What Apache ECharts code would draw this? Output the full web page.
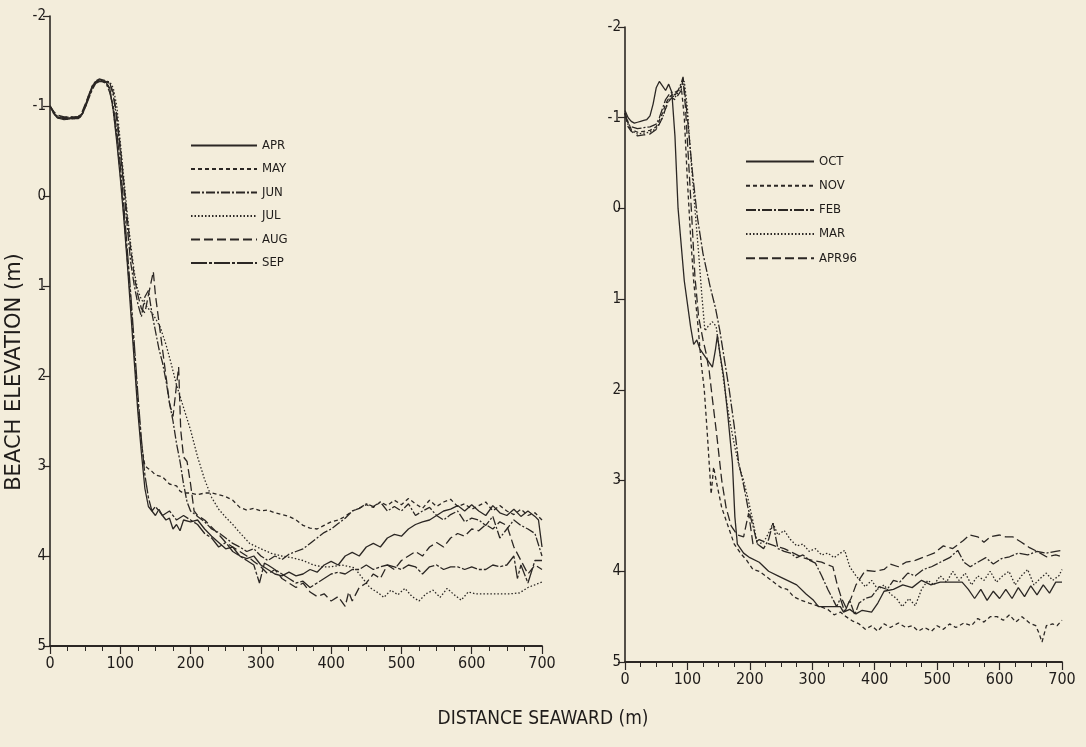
<!DOCTYPE html>
<html>
<head>
<meta charset="utf-8">
<script src="https://cdn.jsdelivr.net/npm/echarts@6/dist/echarts.min.js"></script>
<style>
html, body { margin: 0; padding: 0; background: #f3eddb; }
#chart { width: 1086px; height: 747px; }
</style>
</head>
<body>
<div id="chart"></div>
<script>
// beach profiles, left panel (x = distance seaward m, y = elevation m)
const leftNames = ['APR', 'MAY', 'JUN', 'JUL', 'AUG', 'SEP'];
const rightNames = ['OCT', 'NOV', 'FEB', 'MAR', 'APR96'];

const apr = [[0,-1.0],[5,-0.93],[10,-0.88],[20,-0.86],[30,-0.87],[40,-0.87],[45,-0.9],[50,-1.0],[55,-1.1],[60,-1.2],[65,-1.26],[70,-1.28],[75,-1.27],[80,-1.26],[85,-1.2],[90,-0.95],[95,-0.6],[100,-0.2],[105,0.25],[110,0.75],[115,1.3],[120,1.85],[125,2.4],[130,2.85],[135,3.25],[140,3.45],[145,3.5],[150,3.55],[155,3.48],[160,3.55],[165,3.6],[170,3.58],[175,3.7],[180,3.65],[185,3.72],[190,3.6],[200,3.62],[210,3.6],[220,3.7],[230,3.78],[240,3.85],[250,3.92],[260,3.9],[270,4.0],[280,4.03],[290,4.0],[300,4.1],[310,4.15],[320,4.2],[330,4.22],[340,4.18],[350,4.22],[360,4.2],[370,4.15],[380,4.18],[390,4.1],[400,4.06],[410,4.1],[420,4.0],[430,3.96],[440,4.0],[450,3.9],[460,3.86],[470,3.9],[480,3.8],[490,3.76],[500,3.78],[510,3.7],[520,3.65],[530,3.62],[540,3.6],[550,3.55],[560,3.5],[570,3.48],[580,3.44],[590,3.5],[600,3.43],[610,3.5],[620,3.55],[630,3.44],[640,3.52],[650,3.55],[660,3.48],[670,3.56],[680,3.5],[690,3.56],[695,3.6],[700,3.9]];
const may = [[0,-1.0],[5,-0.92],[10,-0.87],[20,-0.85],[30,-0.86],[40,-0.86],[45,-0.89],[50,-0.98],[55,-1.1],[60,-1.2],[65,-1.27],[70,-1.29],[75,-1.28],[80,-1.27],[85,-1.18],[90,-0.95],[95,-0.65],[100,-0.25],[105,0.2],[110,0.7],[115,1.2],[120,1.75],[125,2.3],[130,2.75],[135,3.0],[140,3.03],[145,3.06],[150,3.1],[160,3.12],[170,3.2],[180,3.22],[185,3.28],[190,3.3],[200,3.3],[210,3.32],[220,3.3],[230,3.3],[240,3.32],[250,3.34],[260,3.38],[270,3.46],[280,3.49],[290,3.47],[300,3.5],[310,3.49],[320,3.52],[330,3.54],[340,3.56],[350,3.6],[360,3.66],[370,3.69],[380,3.7],[390,3.66],[400,3.62],[410,3.6],[420,3.56],[430,3.5],[440,3.47],[450,3.43],[460,3.46],[470,3.4],[480,3.44],[490,3.38],[500,3.43],[510,3.36],[520,3.42],[530,3.47],[540,3.38],[550,3.45],[560,3.4],[570,3.37],[580,3.45],[590,3.42],[600,3.48],[610,3.44],[620,3.4],[630,3.5],[640,3.44],[650,3.5],[660,3.54],[670,3.48],[680,3.55],[690,3.52],[700,3.6]];
const jun = [[0,-1.0],[5,-0.94],[10,-0.89],[20,-0.87],[30,-0.88],[40,-0.88],[45,-0.91],[50,-1.0],[55,-1.12],[60,-1.22],[65,-1.28],[70,-1.3],[75,-1.29],[80,-1.28],[85,-1.26],[90,-1.12],[95,-0.85],[100,-0.5],[105,-0.1],[110,0.35],[115,0.75],[120,1.0],[125,1.2],[130,1.34],[135,1.12],[140,1.05],[145,1.3],[150,1.5],[155,1.7],[160,1.85],[165,2.05],[170,2.3],[175,2.5],[180,2.75],[185,2.95],[190,3.2],[195,3.4],[200,3.5],[210,3.56],[220,3.62],[230,3.7],[240,3.74],[250,3.8],[260,3.86],[270,3.9],[280,3.95],[290,3.92],[300,4.0],[310,4.05],[320,4.0],[330,4.04],[340,3.98],[350,3.95],[360,3.92],[370,3.86],[380,3.8],[390,3.74],[400,3.7],[410,3.64],[420,3.58],[430,3.5],[440,3.47],[450,3.42],[460,3.45],[470,3.4],[480,3.5],[490,3.45],[500,3.5],[510,3.42],[520,3.55],[530,3.5],[540,3.46],[550,3.55],[560,3.6],[570,3.54],[580,3.5],[590,3.62],[600,3.58],[610,3.6],[620,3.66],[630,3.56],[640,3.8],[650,3.7],[660,3.6],[670,3.66],[680,3.7],[690,3.75],[700,4.0]];
const jul = [[0,-1.0],[5,-0.93],[10,-0.88],[20,-0.86],[30,-0.86],[40,-0.87],[45,-0.9],[50,-0.99],[55,-1.1],[60,-1.21],[65,-1.27],[70,-1.29],[75,-1.28],[80,-1.27],[85,-1.27],[90,-1.2],[95,-1.0],[100,-0.6],[105,-0.2],[110,0.2],[115,0.55],[120,0.85],[125,1.05],[130,1.15],[135,1.2],[140,1.25],[145,1.3],[150,1.36],[157,1.46],[165,1.65],[172,1.85],[180,2.1],[190,2.35],[200,2.6],[210,2.9],[220,3.15],[230,3.35],[240,3.48],[250,3.57],[260,3.65],[270,3.74],[284,3.86],[300,3.92],[315,3.97],[330,4.0],[345,4.02],[360,4.05],[375,4.1],[387,4.12],[400,4.12],[415,4.1],[433,4.13],[445,4.25],[455,4.35],[467,4.41],[475,4.46],[485,4.38],[495,4.43],[505,4.36],[515,4.45],[525,4.5],[535,4.42],[545,4.38],[555,4.46],[565,4.36],[575,4.43],[585,4.49],[595,4.4],[605,4.42],[620,4.42],[640,4.42],[655,4.42],[668,4.41],[680,4.35],[690,4.32],[700,4.29]];
const aug = [[0,-1.0],[5,-0.94],[10,-0.9],[20,-0.88],[30,-0.88],[40,-0.88],[45,-0.92],[50,-1.02],[55,-1.12],[60,-1.22],[65,-1.27],[70,-1.29],[75,-1.28],[80,-1.27],[85,-1.25],[90,-1.15],[95,-0.9],[100,-0.55],[105,-0.15],[110,0.25],[115,0.6],[120,0.9],[125,1.1],[130,1.25],[135,1.3],[140,1.1],[147,0.84],[150,1.1],[155,1.4],[160,1.7],[165,2.0],[170,2.3],[175,2.45],[180,2.1],[183,1.9],[186,2.6],[190,2.9],[195,2.95],[200,3.2],[205,3.5],[210,3.55],[220,3.6],[230,3.68],[240,3.76],[250,3.85],[260,3.9],[270,3.95],[280,4.0],[290,4.06],[300,4.12],[310,4.2],[320,4.15],[330,4.25],[340,4.3],[350,4.35],[360,4.3],[370,4.4],[380,4.45],[390,4.42],[400,4.5],[410,4.45],[420,4.56],[425,4.4],[430,4.5],[440,4.35],[450,4.3],[460,4.2],[470,4.25],[480,4.1],[490,4.15],[500,4.05],[510,4.0],[520,3.95],[530,4.0],[540,3.9],[550,3.85],[560,3.9],[570,3.8],[580,3.75],[590,3.78],[600,3.7],[610,3.72],[620,3.65],[630,3.7],[640,3.62],[650,3.66],[660,3.9],[670,4.05],[680,4.2],[690,4.1],[700,4.15]];
const sep = [[0,-1.0],[5,-0.92],[10,-0.87],[20,-0.85],[30,-0.86],[40,-0.86],[45,-0.89],[50,-0.98],[55,-1.08],[60,-1.18],[65,-1.25],[70,-1.27],[75,-1.27],[80,-1.25],[85,-1.15],[90,-1.0],[95,-0.72],[100,-0.35],[105,0.1],[110,0.6],[115,1.1],[120,1.65],[125,2.2],[130,2.7],[135,3.1],[140,3.35],[145,3.5],[150,3.45],[160,3.55],[170,3.5],[180,3.6],[190,3.55],[200,3.6],[210,3.65],[220,3.75],[230,3.8],[240,3.9],[250,3.85],[260,3.95],[270,4.0],[280,4.05],[290,4.1],[298,4.3],[305,4.08],[310,4.1],[320,4.15],[330,4.2],[340,4.25],[350,4.3],[360,4.28],[370,4.35],[380,4.3],[390,4.25],[400,4.2],[410,4.18],[420,4.2],[430,4.15],[440,4.15],[450,4.1],[460,4.15],[470,4.12],[480,4.1],[490,4.12],[500,4.15],[510,4.1],[520,4.12],[530,4.2],[540,4.12],[550,4.1],[560,4.15],[570,4.12],[580,4.12],[590,4.15],[600,4.12],[610,4.15],[620,4.15],[630,4.1],[640,4.12],[650,4.1],[660,4.0],[665,4.25],[670,4.1],[680,4.3],[690,4.05],[700,4.05]];

// right panel
const oct = [[0,-1.08],[5,-1.0],[10,-0.96],[15,-0.94],[20,-0.95],[25,-0.96],[30,-0.97],[35,-0.98],[40,-1.02],[45,-1.15],[50,-1.33],[55,-1.4],[60,-1.35],[65,-1.3],[70,-1.37],[75,-1.28],[80,-0.8],[85,0.0],[95,0.8],[105,1.3],[110,1.5],[115,1.45],[120,1.55],[130,1.65],[140,1.75],[145,1.55],[148,1.4],[152,1.6],[158,1.85],[165,2.3],[172,2.8],[176,3.4],[180,3.7],[190,3.8],[200,3.85],[215,3.9],[230,4.0],[245,4.05],[260,4.1],[275,4.15],[290,4.25],[302,4.32],[310,4.39],[325,4.39],[345,4.39],[350,4.45],[360,4.42],[370,4.47],[380,4.43],[395,4.45],[405,4.35],[415,4.22],[430,4.2],[445,4.15],[460,4.18],[475,4.1],[490,4.15],[505,4.12],[520,4.12],[540,4.12],[550,4.2],[560,4.3],[570,4.2],[580,4.32],[590,4.22],[600,4.3],[610,4.2],[620,4.3],[630,4.18],[640,4.28],[650,4.16],[660,4.26],[670,4.15],[680,4.24],[690,4.12],[700,4.12]];
const nov = [[0,-1.05],[5,-0.95],[10,-0.87],[20,-0.84],[30,-0.85],[40,-0.86],[50,-0.9],[55,-0.97],[60,-1.05],[65,-1.15],[70,-1.22],[75,-1.25],[80,-1.28],[85,-1.3],[90,-1.35],[95,-1.0],[100,-0.3],[105,0.3],[110,0.8],[117,1.3],[122,1.7],[127,2.0],[132,2.5],[138,3.15],[142,2.85],[146,3.0],[155,3.3],[165,3.5],[175,3.7],[185,3.8],[195,3.88],[205,3.98],[215,4.0],[225,4.05],[240,4.13],[250,4.18],[260,4.2],[270,4.28],[282,4.32],[295,4.35],[313,4.39],[325,4.42],[335,4.48],[345,4.45],[354,4.5],[365,4.55],[375,4.58],[385,4.64],[395,4.6],[405,4.66],[415,4.58],[425,4.62],[438,4.57],[450,4.62],[460,4.6],[470,4.66],[480,4.62],[491,4.66],[500,4.6],[510,4.64],[520,4.58],[530,4.62],[543,4.57],[555,4.6],[565,4.52],[575,4.56],[585,4.5],[596,4.5],[606,4.54],[616,4.48],[626,4.56],[636,4.5],[648,4.57],[658,4.6],[663,4.68],[668,4.78],[675,4.6],[685,4.58],[692,4.6],[700,4.54]];
const feb = [[0,-1.05],[5,-0.93],[10,-0.9],[20,-0.88],[30,-0.89],[40,-0.9],[50,-0.93],[55,-1.0],[60,-1.1],[65,-1.2],[70,-1.25],[75,-1.28],[80,-1.25],[85,-1.3],[90,-1.38],[93,-1.45],[100,-1.0],[108,-0.4],[116,0.1],[125,0.5],[136,0.85],[145,1.1],[152,1.35],[160,1.7],[167,2.0],[175,2.4],[182,2.8],[190,3.05],[197,3.3],[205,3.5],[212,3.7],[222,3.75],[230,3.65],[237,3.47],[245,3.75],[255,3.78],[265,3.8],[275,3.85],[285,3.82],[296,3.88],[305,3.91],[315,4.05],[325,4.2],[339,4.39],[345,4.3],[352,4.45],[360,4.32],[368,4.48],[375,4.35],[385,4.3],[395,4.28],[407,4.17],[420,4.2],[430,4.1],[440,4.12],[453,4.02],[465,4.05],[478,3.98],[491,3.95],[505,3.9],[520,3.85],[533,3.77],[543,3.9],[553,3.95],[565,3.9],[578,3.85],[590,3.92],[603,3.86],[616,3.84],[630,3.8],[645,3.82],[660,3.78],[675,3.8],[690,3.78],[700,3.77]];
const mar = [[0,-1.05],[5,-0.92],[10,-0.86],[20,-0.82],[30,-0.83],[40,-0.84],[50,-0.88],[55,-0.94],[60,-1.0],[65,-1.1],[70,-1.2],[75,-1.25],[80,-1.22],[85,-1.28],[90,-1.35],[95,-1.4],[100,-1.1],[105,-0.6],[112,0.0],[118,0.5],[123,0.95],[128,1.35],[133,1.3],[140,1.25],[146,1.3],[152,1.6],[160,2.0],[168,2.35],[175,2.6],[183,2.85],[190,3.0],[197,3.2],[205,3.45],[212,3.7],[222,3.68],[230,3.58],[237,3.47],[245,3.6],[255,3.55],[265,3.65],[275,3.72],[285,3.7],[295,3.78],[305,3.75],[315,3.82],[325,3.8],[335,3.85],[345,3.8],[352,3.77],[360,3.95],[370,4.05],[385,4.17],[395,4.1],[405,4.2],[415,4.15],[425,4.25],[435,4.3],[444,4.39],[455,4.3],[465,4.38],[475,4.2],[485,4.1],[495,4.15],[505,4.05],[515,4.12],[525,4.0],[535,4.1],[545,4.02],[555,4.15],[565,4.05],[575,4.1],[585,4.0],[595,4.12],[605,4.05],[615,4.0],[625,4.15],[635,4.05],[645,3.98],[655,4.15],[665,4.08],[675,4.02],[685,4.1],[695,4.05],[700,3.98]];
const apr96 = [[0,-1.05],[5,-0.9],[10,-0.85],[20,-0.8],[30,-0.81],[40,-0.82],[50,-0.87],[55,-0.93],[60,-1.0],[65,-1.1],[70,-1.18],[75,-1.22],[80,-1.2],[85,-1.25],[90,-1.3],[93,-1.43],[97,-1.1],[102,-0.5],[107,0.1],[112,0.75],[118,1.2],[125,1.45],[130,1.6],[135,1.8],[140,2.1],[147,2.5],[155,3.0],[162,3.3],[170,3.5],[180,3.6],[190,3.62],[198,3.36],[205,3.7],[215,3.65],[228,3.69],[240,3.72],[255,3.75],[270,3.8],[285,3.85],[300,3.88],[315,3.9],[333,3.95],[340,4.15],[347,4.3],[354,4.4],[362,4.3],[370,4.15],[385,3.99],[400,4.0],[415,3.98],[425,3.92],[438,3.95],[450,3.9],[465,3.88],[480,3.84],[495,3.8],[510,3.72],[525,3.75],[542,3.66],[552,3.6],[565,3.62],[575,3.68],[585,3.62],[600,3.6],[610,3.62],[621,3.62],[635,3.68],[648,3.74],[660,3.78],[675,3.84],[690,3.82],[700,3.84]];

const leftData = [apr, may, jun, jul, aug, sep];
const rightData = [oct, nov, feb, mar, apr96];

const FONT = "'DejaVu Sans Condensed','Liberation Sans',Arial,sans-serif";
const INK = '#2b2724';
const dashes = {
  APR: 'solid', MAY: [4, 3], JUN: [9, 2, 2, 2], JUL: [1.5, 2], AUG: [9, 4], SEP: [16, 2, 3, 2],
  OCT: 'solid', NOV: [4, 3], FEB: [10, 2, 2, 2], MAR: [1.5, 2], APR96: [9, 4]
};

function xAx(grid) {
  return {
    type: 'value', gridIndex: grid, min: 0, max: 700, interval: 100, position: 'bottom',
    axisLine: { onZero: false, lineStyle: { color: INK, width: 1.8 } },
    axisTick: { length: 8, lineStyle: { color: INK, width: 1.2 } },
    minorTick: { show: true, splitNumber: 4, length: 5, lineStyle: { color: INK, width: 1 } },
    axisLabel: { color: '#1f1c1a', fontSize: 16, fontFamily: FONT, margin: 10 },
    splitLine: { show: false }
  };
}
function yAx(grid) {
  return {
    type: 'value', gridIndex: grid, min: -2, max: 5, interval: 1, inverse: true, position: 'left',
    axisLine: { show: true, onZero: false, lineStyle: { color: INK, width: 1.6 } },
    axisTick: { show: true, length: 7, lineStyle: { color: INK, width: 1.2 } },
    axisLabel: { color: '#1f1c1a', fontSize: 15, fontFamily: FONT, margin: 4 },
    splitLine: { show: false }
  };
}
function mk(names, data, idx) {
  return names.map((n, i) => ({
    name: n, type: 'line', xAxisIndex: idx, yAxisIndex: idx,
    data: data[i], symbol: 'none', showSymbol: false, animation: false,
    color: INK,
    lineStyle: { color: INK, width: 1.3, type: dashes[n] }
  }));
}

const legendCommon = {
  orient: 'vertical', itemHeight: 14, selectedMode: false,
  itemStyle: { opacity: 0, borderWidth: 0 },
  textStyle: { fontFamily: FONT, fontSize: 13, color: '#1f1c1a' }
};

const chart = echarts.init(document.getElementById('chart'));
chart.setOption({
  backgroundColor: '#f3eddb',
  animation: false,
  title: {
    text: 'DISTANCE SEAWARD (m)', left: 'center', top: 705,
    textStyle: { fontFamily: FONT, fontSize: 19, fontWeight: 'normal', color: '#1f1c1a' }
  },
  graphic: [{
    type: 'text', x: 15, y: 372, rotation: Math.PI / 2,
    style: { text: 'BEACH ELEVATION (m)', fontFamily: 'DejaVu Sans, Liberation Sans, sans-serif', fontSize: 21,
      fill: '#1f1c1a', align: 'center', verticalAlign: 'middle' }
  }],
  grid: [
    { left: 50, top: 16, width: 492, height: 630 },
    { left: 625, top: 27, width: 437, height: 635 }
  ],
  xAxis: [xAx(0), xAx(1)],
  yAxis: [yAx(0), yAx(1)],
  legend: [
    Object.assign({ data: leftNames, left: 185, top: 134, itemWidth: 66, itemGap: 10.5 }, legendCommon),
    Object.assign({ data: rightNames, left: 740, top: 150, itemWidth: 68, itemGap: 11.2 }, legendCommon)
  ],
  series: mk(leftNames, leftData, 0).concat(mk(rightNames, rightData, 1))
});
</script>
</body>
</html>
